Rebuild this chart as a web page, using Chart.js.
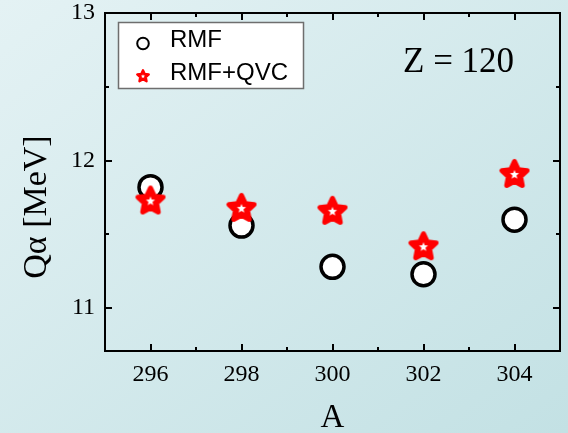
<!DOCTYPE html>
<html>
<head>
<meta charset="utf-8">
<script src="https://cdn.jsdelivr.net/npm/chart.js@4/dist/chart.umd.min.js"></script>
<style>
  html, body { margin: 0; padding: 0; }
  #wrap { width: 568px; height: 433px; position: relative;
          background: linear-gradient(to bottom right, #e4f2f4, #c3e1e4); }
</style>
</head>
<body>
<div id="wrap"><canvas id="c" width="568" height="433"></canvas></div>
<script>
// ---- data ----
const categories = [296, 298, 300, 302, 304];
const rmf        = [11.82, 11.56, 11.28, 11.23, 11.60];
const rmfQvc     = [11.73, 11.68, 11.66, 11.42, 11.91];
const xTicks = [296, 298, 300, 302, 304];
const xMinorTicks = [297, 299, 301, 303];
const yTicks = [11, 12, 13];
const yMinorTicks = [11.5, 12.5];
const seriesNames = ['RMF', 'RMF+QVC'];
const annotationText = 'Z = 120';
const yTitle = 'Qα [MeV]';
const xTitle = 'A';

// ---- star marker ----
function starPath(ctx, cx, cy, R, r) {
  ctx.beginPath();
  for (let i = 0; i < 10; i++) {
    const rad = i % 2 === 0 ? R : r;
    const a = -Math.PI / 2 + i * Math.PI / 5;
    const x = cx + rad * Math.cos(a), y = cy + rad * Math.sin(a);
    if (i === 0) ctx.moveTo(x, y); else ctx.lineTo(x, y);
  }
  ctx.closePath();
}
function makeStar(s) {
  const size = Math.ceil(38 * s);
  const c = document.createElement('canvas');
  c.width = size; c.height = size;
  const g = c.getContext('2d');
  const cx = size / 2, cy = size / 2 + 0.8 * s;
  g.fillStyle = '#ff0000'; g.strokeStyle = '#ff0000';
  g.lineJoin = 'round'; g.lineWidth = 5 * s;
  starPath(g, cx, cy, 13.2 * s, 6.4 * s);
  g.fill(); g.stroke();
  g.fillStyle = '#ffffff';
  starPath(g, cx, cy, 4.8 * s, 2.1 * s);
  g.fill();
  return c;
}
const starBig = makeStar(1);
const starSmall = makeStar(0.46);

// ---- plugins ----
const framePlugin = {
  id: 'frame',
  afterDraw(chart) {
    const { ctx, chartArea: a, scales: { x, y } } = chart;
    ctx.save();
    ctx.strokeStyle = '#000'; ctx.lineWidth = 2;
    ctx.beginPath();
    const xt = (vals, len) => vals.forEach(v => {
      const px = Math.round(x.getPixelForValue(v));
      ctx.moveTo(px, a.bottom); ctx.lineTo(px, a.bottom - len);
      ctx.moveTo(px, a.top); ctx.lineTo(px, a.top + len);
    });
    const yt = (vals, len) => vals.forEach(v => {
      const py = Math.round(y.getPixelForValue(v));
      ctx.moveTo(a.left, py); ctx.lineTo(a.left + len, py);
      ctx.moveTo(a.right, py); ctx.lineTo(a.right - len, py);
    });
    xt(xTicks, 7); xt(xMinorTicks, 4);
    yt(yTicks, 7); yt(yMinorTicks, 4);
    ctx.stroke();
    ctx.strokeRect(a.left, a.top, a.right - a.left, a.bottom - a.top);

    // y-axis title
    ctx.fillStyle = '#000';
    ctx.save();
    ctx.translate(37, 207);
    ctx.rotate(-Math.PI / 2);
    ctx.font = '34px "Liberation Serif"';
    ctx.textAlign = 'center'; ctx.textBaseline = 'middle';
    ctx.fillText(yTitle, 0, 0);
    ctx.restore();

    // annotation
    ctx.font = '35px "Liberation Serif"';
    ctx.textBaseline = 'alphabetic'; ctx.textAlign = 'left';
    ctx.fillText(annotationText, 403, 72);

    // legend
    ctx.fillStyle = '#ffffff';
    ctx.fillRect(118.5, 22.5, 185, 66);
    ctx.strokeStyle = '#6e6e6e'; ctx.lineWidth = 1.5;
    ctx.strokeRect(118.5, 22.5, 185, 66);
    ctx.beginPath();
    ctx.arc(143, 43.5, 5.8, 0, Math.PI * 2);
    ctx.strokeStyle = '#000'; ctx.lineWidth = 2; ctx.stroke();
    ctx.drawImage(starSmall, 143 - starSmall.width / 2, 76 - starSmall.height / 2);
    ctx.fillStyle = '#000';
    ctx.font = '24px "Liberation Sans"';
    ctx.textBaseline = 'middle';
    ctx.fillText(seriesNames[0], 170, 40);
    ctx.fillText(seriesNames[1], 170, 73);
    ctx.restore();
  }
};

const serif = '"Liberation Serif"';
const zeroPad = s => { s.paddingTop = 0; s.paddingBottom = 0; s.paddingLeft = 0; s.paddingRight = 0; };
new Chart(document.getElementById('c'), {
  type: 'scatter',
  data: {
    datasets: [
      {
        label: seriesNames[0],
        data: categories.map((v, i) => ({ x: v, y: rmf[i] })),
        pointStyle: 'circle', pointRadius: 11.5, borderWidth: 3.5,
        borderColor: '#000', backgroundColor: '#fff', order: 2
      },
      {
        label: seriesNames[1],
        data: categories.map((v, i) => ({ x: v, y: rmfQvc[i] })),
        pointStyle: starBig, pointRadius: 15, order: 1
      }
    ]
  },
  options: {
    responsive: false, animation: false, events: [],
    layout: { autoPadding: false, padding: { top: 13, right: 8, left: 0, bottom: 0 } },
    plugins: { legend: { display: false }, tooltip: { enabled: false } },
    scales: {
      x: {
        type: 'linear', min: 295, max: 305,
        afterBuildTicks: s => { s.ticks = xTicks.map(v => ({ value: v })); },
        afterFit: s => { s.height = 82; zeroPad(s); },
        grid: { display: false, drawTicks: false }, border: { display: false },
        ticks: { font: { family: serif, size: 24 }, color: '#000', padding: 9, maxRotation: 0 },
        title: { display: true, text: xTitle, color: '#000',
                 font: { family: serif, size: 33, lineHeight: 0.9 }, padding: 0 }
      },
      y: {
        type: 'linear', min: 10.71, max: 13,
        afterBuildTicks: s => { s.ticks = yTicks.map(v => ({ value: v })); },
        afterFit: s => { s.width = 105; zeroPad(s); },
        grid: { display: false, drawTicks: false }, border: { display: false },
        ticks: { font: { family: serif, size: 24 }, color: '#000', padding: 10 },
        title: { display: false }
      }
    }
  },
  plugins: [framePlugin]
});
</script>
</body>
</html>
